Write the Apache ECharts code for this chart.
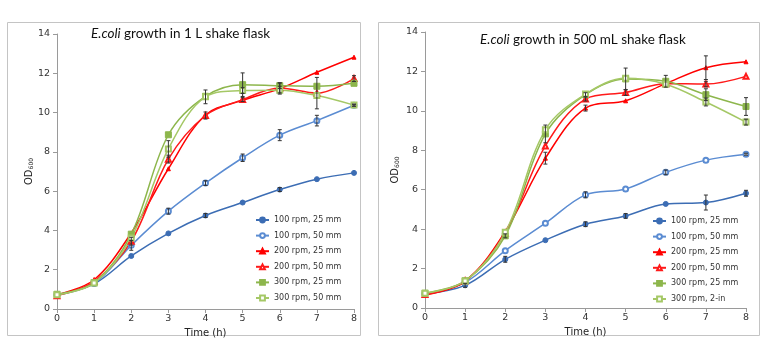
<!DOCTYPE html>
<html>
<head>
<meta charset="utf-8">
<script src="https://cdn.jsdelivr.net/npm/echarts@6/dist/echarts.min.js"></script>
<style>
html,body{margin:0;padding:0;background:#fff;}
#chart{width:768px;height:359px;}
</style>
</head>
<body>
<div id="chart"></div>
<script>
// ---------- data ----------
const times = [0, 1, 2, 3, 4, 5, 6, 7, 8];

// Left panel: 1 L shake flask
const leftTitle = 'growth in 1 L shake flask';
const leftNames = ['100 rpm, 25 mm', '100 rpm, 50 mm', '200 rpm, 25 mm', '200 rpm, 50 mm', '300 rpm, 25 mm', '300 rpm, 50 mm'];
const L_100_25 = [0.72, 1.28, 2.70, 3.85, 4.76, 5.42, 6.08, 6.61, 6.93];
const L_100_50 = [0.72, 1.30, 3.24, 4.98, 6.41, 7.70, 8.85, 9.59, 10.37];
const L_200_25 = [0.72, 1.49, 3.87, 7.14, 9.88, 10.62, 11.22, 12.05, 12.82];
const L_200_50 = [0.68, 1.40, 3.45, 7.63, 9.85, 10.66, 11.25, 10.99, 11.73];
const L_300_25 = [0.75, 1.34, 3.81, 8.87, 10.83, 11.42, 11.37, 11.34, 11.49];
const L_300_50 = [0.72, 1.32, 3.62, 8.15, 10.80, 11.12, 11.14, 10.87, 10.38];
const LE_100_25 = [0, 0, 0, 0, 0.1, 0, 0.1, 0, 0];
const LE_100_50 = [0, 0, 0.25, 0.15, 0.12, 0.19, 0.28, 0.27, 0.05];
const LE_200_25 = [0, 0, 0, 0, 0, 0, 0, 0, 0];
const LE_200_50 = [0, 0, 0.2, 0.2, 0.18, 0.1, 0.25, 0.8, 0.15];
const LE_300_25 = [0, 0, 0, 0, 0, 0.6, 0.15, 0, 0];
const LE_300_50 = [0, 0, 0, 0.42, 0.35, 0.15, 0.2, 0, 0.05];

// Right panel: 500 mL shake flask
const rightTitle = 'growth in 500 mL shake flask';
const rightNames = ['100 rpm, 25 mm', '100 rpm, 50 mm', '200 rpm, 25 mm', '200 rpm, 50 mm', '300 rpm, 25 mm', '300 rpm, 2-in'];
const R_100_25 = [0.72, 1.15, 2.47, 3.44, 4.25, 4.67, 5.28, 5.35, 5.82];
const R_100_50 = [0.72, 1.30, 2.91, 4.30, 5.74, 6.04, 6.88, 7.50, 7.80];
const R_200_25 = [0.66, 1.35, 3.88, 7.60, 10.14, 10.51, 11.38, 12.19, 12.49];
const R_200_50 = [0.68, 1.38, 3.80, 8.22, 10.60, 10.93, 11.38, 11.36, 11.75];
const R_300_25 = [0.75, 1.38, 3.66, 8.83, 10.82, 11.62, 11.50, 10.82, 10.22];
const R_300_2in = [0.75, 1.37, 3.84, 9.04, 10.85, 11.65, 11.35, 10.45, 9.43];
const RE_100_25 = [0, 0.1, 0.15, 0, 0.12, 0.12, 0, 0.38, 0.15];
const RE_100_50 = [0, 0, 0, 0, 0.15, 0, 0.12, 0, 0.05];
const RE_200_25 = [0, 0, 0, 0.3, 0.15, 0, 0, 0.6, 0];
const RE_200_50 = [0, 0, 0, 0, 0.1, 0.15, 0, 0.14, 0];
const RE_300_25 = [0, 0, 0.1, 0.45, 0.1, 0.55, 0.3, 0.3, 0.45];
const RE_300_2in = [0, 0, 0, 0, 0, 0, 0, 0.2, 0.15];

// ---------- styles ----------
const styles = [
  {color: '#3C6DB4', symbol: 'circle', size: 5},
  {color: '#5B8CD2', symbol: 'emptyCircle', size: 5},
  {color: '#FF0000', symbol: 'triangle', size: 4},
  {color: '#FF1A1A', symbol: 'emptyTriangle', size: 5},
  {color: '#8DB64C', symbol: 'rect', size: 6},
  {color: '#A5C866', symbol: 'emptyRect', size: 5}
];

const leftVals = [L_100_25, L_100_50, L_200_25, L_200_50, L_300_25, L_300_50];
const leftErrs = [LE_100_25, LE_100_50, LE_200_25, LE_200_50, LE_300_25, LE_300_50];
const rightVals = [R_100_25, R_100_50, R_200_25, R_200_50, R_300_25, R_300_2in];
const rightErrs = [RE_100_25, RE_100_50, RE_200_25, RE_200_50, RE_300_25, RE_300_2in];

const series = [];
function addPanel(names, vals, errs, idx) {
  names.forEach((n, i) => {
    const st = styles[i];
    series.push({
      name: n, type: 'line', xAxisIndex: idx, yAxisIndex: idx,
      data: times.map((t, k) => [t, vals[i][k]]),
      smooth: 0.35,
      symbol: st.symbol, symbolSize: st.size, showSymbol: true,
      lineStyle: {color: st.color, width: 1.5},
      itemStyle: {color: st.color, borderColor: st.color, borderWidth: 1},
      z: 3, animation: false
    });
  });
  const ebData = [];
  names.forEach((n, i) => {
    times.forEach((t, k) => {
      if (errs[i][k] > 0) ebData.push([t, vals[i][k], errs[i][k]]);
    });
  });
  series.push({
    type: 'custom', xAxisIndex: idx, yAxisIndex: idx, z: 4, animation: false,
    data: ebData,
    renderItem: function (params, api) {
      const x = api.value(0), y = api.value(1), e = api.value(2);
      const top = api.coord([x, y + e]);
      const bot = api.coord([x, y - e]);
      const c = 2;
      const s = {stroke: '#333', lineWidth: 1};
      return {
        type: 'group',
        children: [
          {type: 'line', shape: {x1: top[0], y1: top[1], x2: bot[0], y2: bot[1]}, style: s},
          {type: 'line', shape: {x1: top[0] - c, y1: top[1], x2: top[0] + c, y2: top[1]}, style: s},
          {type: 'line', shape: {x1: bot[0] - c, y1: bot[1], x2: bot[0] + c, y2: bot[1]}, style: s}
        ]
      };
    }
  });
}
addPanel(leftNames, leftVals, leftErrs, 0);
addPanel(rightNames, rightVals, rightErrs, 1);

const axisLineStyle = {lineStyle: {color: '#9a9a9a', width: 1}};
const tickLabel = {fontFamily: 'DejaVu Sans', fontSize: 9.5, color: '#333'};
function xAxis(gi) {
  return {
    type: 'value', gridIndex: gi, min: 0, max: 8, interval: 1,
    name: 'Time (h)', nameLocation: 'middle', nameGap: 17,
    nameTextStyle: {fontFamily: 'DejaVu Sans', fontSize: 10, color: '#222'},
    axisLine: axisLineStyle,
    axisTick: {show: true, inside: false, length: 4, lineStyle: {color: '#9a9a9a'}},
    axisLabel: Object.assign({margin: 5}, tickLabel),
    splitLine: {show: false}
  };
}
function yAxis(gi, gap) {
  return {
    type: 'value', gridIndex: gi, min: 0, max: 14, interval: 2,
    name: 'OD{s|600}', nameLocation: 'middle', nameRotate: 90, nameGap: gap,
    nameTextStyle: {fontFamily: 'DejaVu Sans', fontSize: 10, color: '#222',
      rich: {s: {fontFamily: 'DejaVu Sans', fontSize: 6, color: '#222', verticalAlign: 'bottom', padding: [4, 0, 0, 0]}}},
    axisLine: {show: true, lineStyle: {color: '#9a9a9a', width: 1}},
    axisTick: {show: true, inside: false, length: 4, lineStyle: {color: '#9a9a9a'}},
    axisLabel: Object.assign({margin: 7}, tickLabel),
    splitLine: {show: false}
  };
}

const titleStyle = {
  fontFamily: 'Lato', fontSize: 13.5, fontWeight: 'normal', color: '#111',
  rich: {i: {fontFamily: 'Lato', fontSize: 13.5, fontStyle: 'italic', color: '#111'}}
};

const legendText = {fontFamily: 'DejaVu Sans', fontSize: 8, color: '#333'};

const option = {
  backgroundColor: '#ffffff',
  animation: false,
  graphic: [
    {type: 'rect', shape: {x: 7.5, y: 22.5, width: 353, height: 313}, style: {fill: 'none', stroke: '#c4c4c4', lineWidth: 1}, silent: true},
    {type: 'rect', shape: {x: 378.5, y: 22.5, width: 381, height: 313}, style: {fill: 'none', stroke: '#c4c4c4', lineWidth: 1}, silent: true}
  ],
  title: [
    {text: '{i|E.coli} ' + leftTitle, left: 91, top: 27, padding: 0, textStyle: titleStyle},
    {text: '{i|E.coli} ' + rightTitle, left: 480, top: 33, padding: 0, textStyle: titleStyle}
  ],
  legend: [
    {data: leftNames, orient: 'vertical', left: 255, top: 216, padding: 0, itemWidth: 13, itemHeight: 6, itemGap: 7.6, textStyle: legendText, selectedMode: false},
    {data: rightNames, orient: 'vertical', left: 652, top: 217, padding: 0, itemWidth: 13, itemHeight: 6, itemGap: 7.6, textStyle: legendText, selectedMode: false}
  ],
  grid: [
    {left: 57, top: 34, width: 297, height: 275},
    {left: 425, top: 32, width: 321, height: 276}
  ],
  xAxis: [xAxis(0), xAxis(1)],
  yAxis: [yAxis(0, 20), yAxis(1, 25)],
  series: series
};

const chart = echarts.init(document.getElementById('chart'), null, {renderer: 'canvas'});
chart.setOption(option);
</script>
</body>
</html>
